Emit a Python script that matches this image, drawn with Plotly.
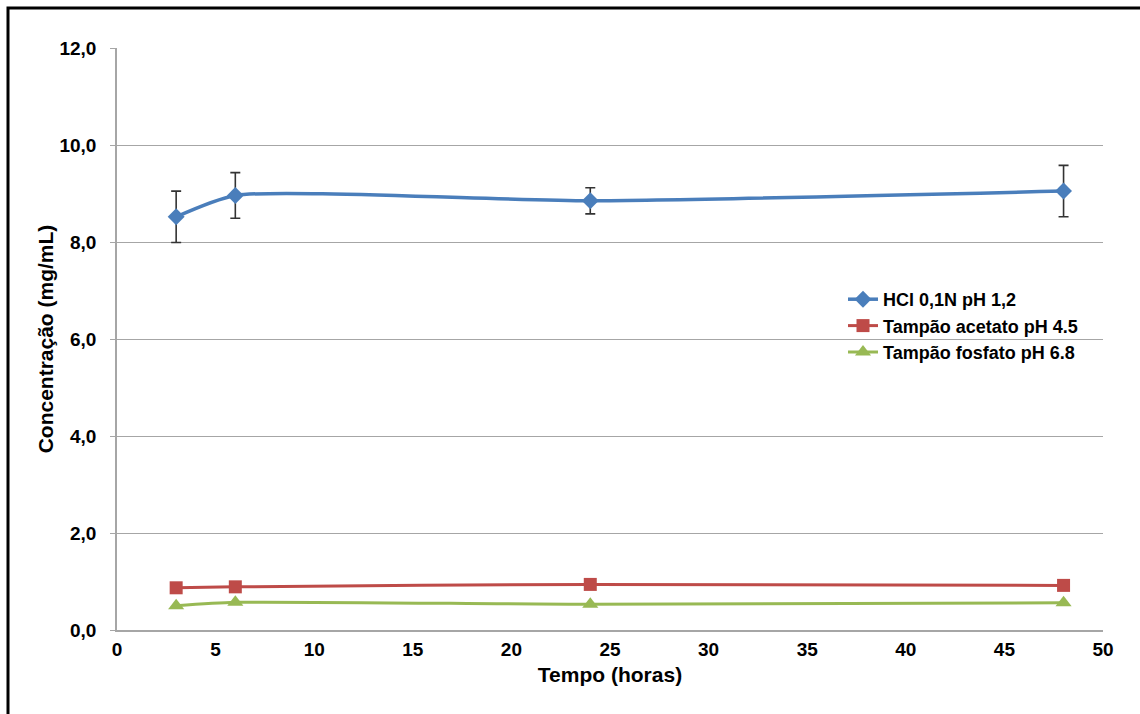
import plotly.graph_objects as go

tempo = [3, 6, 24, 48]
hcl = [8.52, 8.96, 8.85, 9.05]
hcl_err = [0.53, 0.47, 0.27, 0.53]
acetato = [0.87, 0.89, 0.94, 0.92]
fosfato = [0.50, 0.57, 0.53, 0.56]
fosfato_err = [0.02, 0.02, 0.01, 0.02]
y_ticks = [0, 2, 4, 6, 8, 10, 12]
y_labels = ["0,0", "2,0", "4,0", "6,0", "8,0", "10,0", "12,0"]

font_b = "Liberation Sans"

fig = go.Figure()
fig.add_trace(go.Scatter(
    x=tempo, y=hcl, name="HCl 0,1N pH 1,2", mode="lines+markers",
    line=dict(color="#4A7EBB", width=3.5, shape="spline", smoothing=0.6),
    marker=dict(symbol="diamond", size=13, color="#4A7EBB"),
    error_y=dict(type="data", array=hcl_err, color="#333333", thickness=1.6, width=5),
))
fig.add_trace(go.Scatter(
    x=tempo, y=acetato, name="Tampão acetato pH 4.5", mode="lines+markers",
    line=dict(color="#BE4B48", width=3, shape="spline", smoothing=0.6),
    marker=dict(symbol="square", size=13, color="#BE4B48"),
))
fig.add_trace(go.Scatter(
    x=tempo, y=fosfato, name="Tampão fosfato pH 6.8", mode="lines+markers",
    line=dict(color="#98B954", width=3, shape="spline", smoothing=0.6),
    marker=dict(symbol="triangle-up", size=14, color="#98B954"),
    error_y=dict(type="data", array=fosfato_err, color="#333333", thickness=1, width=3),
))

L, R, T, B = 117, 37, 48, 84
W, H = 1140, 714
pw, ph = W - L - R, H - T - B

fig.update_layout(
    width=W, height=H,
    margin=dict(l=L, r=R, t=T, b=B),
    paper_bgcolor="white", plot_bgcolor="white",
    font=dict(family=font_b, color="#000000"),
    showlegend=True,
    legend=dict(
        x=(843 - 117) / pw, y=(630 - 281) / ph, xanchor="left", yanchor="top",
        font=dict(family=font_b, size=18, color="#000000", weight="bold"),
        bgcolor="rgba(0,0,0,0)", tracegroupgap=0, itemwidth=30,
    ),
    xaxis=dict(
        range=[0, 50], tickvals=list(range(0, 51, 5)),
        tickfont=dict(family=font_b, size=19, weight="bold"),
        showgrid=False, zeroline=False,
        showline=True, linecolor="#A6A6A6", linewidth=1.5,
        ticks="outside", ticklen=1, tickcolor="rgba(0,0,0,0)",
        title=dict(text="Tempo (horas)", font=dict(family=font_b, size=21, weight="bold"), standoff=9),
    ),
    yaxis=dict(
        range=[0, 12], tickvals=y_ticks, ticktext=y_labels,
        tickfont=dict(family=font_b, size=19, weight="bold"),
        showgrid=True, gridcolor="#A6A6A6", gridwidth=1.2,
        zeroline=False,
        showline=True, linecolor="#A6A6A6", linewidth=1.5,
        ticks="outside", ticklen=5, tickcolor="#A6A6A6",
        ticklabelstandoff=10,
        title=dict(text="Concentração (mg/mL)", font=dict(family=font_b, size=21, weight="bold"), standoff=0),
    ),
)

fig.add_shape(
    type="rect", xref="paper", yref="paper",
    x0=(8 - L) / pw, x1=(1170 - L) / pw,
    y0=(H - B - 740) / ph, y1=1 + (T - 8) / ph,
    line=dict(color="black", width=3), fillcolor="rgba(0,0,0,0)", layer="above",
)

fig.write_html("out.html")
